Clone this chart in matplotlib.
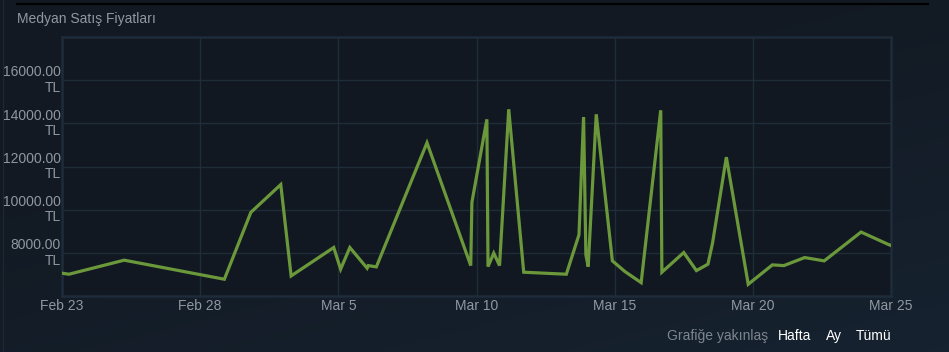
import matplotlib
matplotlib.use("Agg")
import matplotlib.pyplot as plt
import matplotlib.dates as mdates
import numpy as np
import pandas as pd

# median sale prices (TL)
times = ["2023-02-23 00:00", "2023-02-23 06:00", "2023-02-25 06:00", "2023-02-28 21:00",
         "2023-03-01 20:00", "2023-03-02 22:00", "2023-03-03 07:00", "2023-03-04 20:00",
         "2023-03-05 02:00", "2023-03-05 10:00", "2023-03-06 01:00", "2023-03-06 02:00",
         "2023-03-06 09:00", "2023-03-08 05:00", "2023-03-09 19:00", "2023-03-09 20:00",
         "2023-03-10 09:00", "2023-03-10 10:00", "2023-03-10 15:00", "2023-03-10 20:00",
         "2023-03-11 04:00", "2023-03-11 17:00", "2023-03-13 06:00", "2023-03-13 17:00",
         "2023-03-13 21:00", "2023-03-13 23:00", "2023-03-14 01:00", "2023-03-14 08:00",
         "2023-03-14 22:00", "2023-03-15 09:00", "2023-03-15 23:00", "2023-03-16 16:00",
         "2023-03-16 17:00", "2023-03-17 12:00", "2023-03-17 23:00", "2023-03-18 09:00",
         "2023-03-18 13:00", "2023-03-19 01:00", "2023-03-19 20:00", "2023-03-20 17:00",
         "2023-03-21 03:00", "2023-03-21 21:00", "2023-03-22 14:00", "2023-03-23 22:00",
         "2023-03-24 21:00", "2023-03-25 00:00"]
prices = [7056, 7009, 7660, 6777, 9874, 11163, 6930, 8247,
          7242, 8247, 7288, 7409, 7349, 13102, 7409, 10340,
          14186, 7363, 7986, 7409, 14651, 7102, 7009, 8837,
          14293, 7907, 7363, 14419, 7628, 7130, 6619, 14605,
          7102, 8014, 7177, 7474, 8451, 12433, 6544, 7442,
          7409, 7781, 7628, 8963, 8405, 8340]

y_ticks = [8000, 10000, 12000, 14000, 16000]
x_ticks = ["2023-02-23", "2023-02-28", "2023-03-05", "2023-03-10",
           "2023-03-15", "2023-03-20", "2023-03-25"]

plt.rcParams['font.family'] = ['Liberation Sans', 'DejaVu Sans']

W, H = 949, 352
fig = plt.figure(figsize=(W / 100, H / 100), dpi=100)

# background gradient
bg = fig.add_axes([0, 0, 1, 1], zorder=-10)
gx, gy = np.meshgrid(np.linspace(0, 1, 200), np.linspace(0, 1, 100))
t = np.clip(0.6 * gy + 0.4 * gx - 0.3, 0, 1)
c0 = np.array([0x12, 0x19, 0x22]) / 255
c1 = np.array([0x18, 0x26, 0x36]) / 255
img = c0[None, None, :] * (1 - t[..., None]) + c1[None, None, :] * t[..., None]
bg.imshow(img, aspect='auto', extent=[0, 1, 0, 1], origin='upper')
bg.set_xlim(0, 1)
bg.set_ylim(0, 1)
bg.axis('off')
# top separator line
bg.plot([17 / W, 928 / W], [1 - 4 / H, 1 - 4 / H], color='#000000', lw=1.5)
bg.plot([3 / W, 3 / W], [0, 1], color='#1c2733', lw=1)

ax = fig.add_axes([62 / W, 1 - 296 / H, (891 - 62) / W, (296 - 37) / H])
ax.set_facecolor('#111821')

dates = pd.to_datetime(times)
ax.plot(dates, prices, color='#6b983b', lw=2.3, solid_joinstyle='miter', zorder=3)

ax.set_xlim(pd.Timestamp("2023-02-23"), pd.Timestamp("2023-03-25"))
ax.set_ylim(6000, 18000)

ax.set_yticks(y_ticks)
ax.set_yticklabels([f"{v}.00\nTL" for v in y_ticks], linespacing=1.15,
                   ha='right', va='center')
xt = pd.to_datetime(x_ticks)
ax.set_xticks(xt)
ax.set_xticklabels([d.strftime("%b ") + str(d.day) for d in xt])

ax.grid(True, color='#1f2c3a', lw=1)
ax.tick_params(axis='both', length=0, colors='#8f98a0', labelsize=10)
ax.tick_params(axis='y', pad=1)
ax.tick_params(axis='x', pad=2)
for s in ax.spines.values():
    s.set_color('#1e2b3a')
    s.set_linewidth(1.8)

fig.text(17 / W, 1 - 19 / H, "Medyan Satış Fiyatları", color='#8f98a0',
         fontsize=10, va='center', ha='left')

fig.text(768 / W, 1 - 336 / H, "Grafiğe yakınlaş", color='#7c8590',
         fontsize=10, va='center', ha='right')
fig.text(778 / W, 1 - 336 / H, "Hafta", color='#ffffff', fontsize=10, va='center')
fig.text(826 / W, 1 - 336 / H, "Ay", color='#ffffff', fontsize=10, va='center')
fig.text(856 / W, 1 - 336 / H, "Tümü", color='#ffffff', fontsize=10, va='center')

fig.savefig("out.png", dpi=100, facecolor='#131b25')
